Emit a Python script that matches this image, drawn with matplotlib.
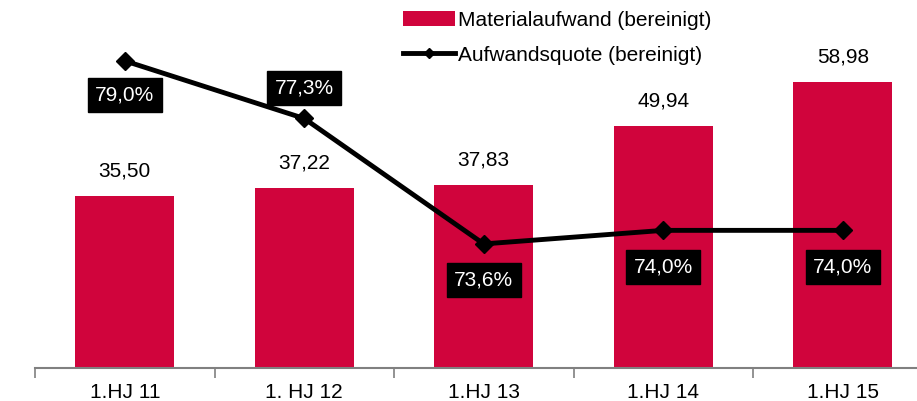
import numpy as np
import matplotlib.pyplot as plt

plt.rcParams['font.family'] = ['Liberation Sans', 'DejaVu Sans']

periods = ["1.HJ 11", "1. HJ 12", "1.HJ 13", "1.HJ 14", "1.HJ 15"]
material = [35.50, 37.22, 37.83, 49.94, 58.98]
quote = [79.0, 77.3, 73.6, 74.0, 74.0]
quote_offsets = [-24.5, 22, -26, -26.5, -26.5]  # label offset in points (below/above marker)

red = "#D0043C"
fs = 15

fig = plt.figure(figsize=(9.17, 4.01), dpi=100)
ax = fig.add_axes([35 / 917, 33 / 401, 882 / 917, 368 / 401])
x = np.arange(len(periods))

ax.bar(x, material, width=0.55, color=red, label="Materialaufwand (bereinigt)", zorder=2)
for xi, v in zip(x, material):
    ax.annotate(f"{v:.2f}".replace(".", ","), (xi, v), xytext=(0, 11),
                textcoords="offset points", ha="center", va="bottom", fontsize=fs)

ax.set_xlim(-0.5, -0.5 + 882 / 179.5)
ax.set_ylim(0, 75.9)
ax.set_yticks([])
for s in ["top", "right", "left"]:
    ax.spines[s].set_visible(False)
ax.spines["bottom"].set_color("#808080")
ax.spines["bottom"].set_linewidth(1.5)
ax.set_xticks(x - 0.5)
ax.set_xticklabels([])
ax.tick_params(axis="x", which="major", length=7, color="#808080", width=1.2)
ax.set_xticks(x, minor=True)
ax.set_xticklabels(periods, minor=True, fontsize=fs)
ax.tick_params(axis="x", which="minor", length=0, pad=11)

ax2 = ax.twinx()
ax2.set_ylim(69.94, 69.94 + 368 / 33.9)
ax2.axis("off")
ax2.plot(x, quote, color="black", lw=3.5, marker="D", ms=9, zorder=3,
         label="Aufwandsquote (bereinigt)")
for xi, v, off in zip(x, quote, quote_offsets):
    ax2.annotate(f"{v:.1f}%".replace(".", ","), (xi, v), xytext=(0, off),
                 textcoords="offset points", ha="center", va="center",
                 fontsize=fs, color="white",
                 bbox=dict(boxstyle="square,pad=0.35", fc="black", ec="black"))

h1, l1 = ax.get_legend_handles_labels()
h2, l2 = ax2.get_legend_handles_labels()
leg = fig.legend(h1 + h2, l1 + l2, loc="upper left", bbox_to_anchor=(403 / 917, 1 - 11 / 401),
                 frameon=False, fontsize=fs, handlelength=2.5, handletextpad=0.15,
                 labelspacing=0.75, borderaxespad=0, borderpad=0)
leg.legend_handles[1].set_markersize(5)

fig.savefig("out.png", dpi=100)
